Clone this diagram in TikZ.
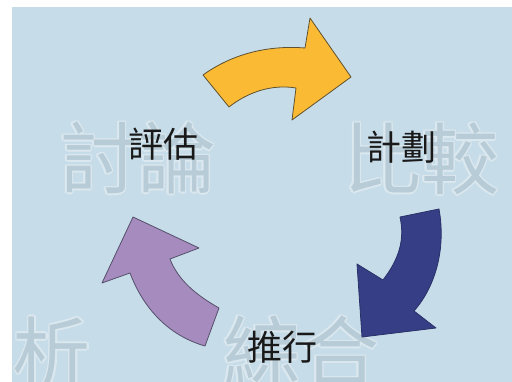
\documentclass[tikz,border=0pt]{standalone}
\usepackage{fontspec}
\newfontfamily\cjk{Noto Sans CJK TC}
\definecolor{bgblue}{HTML}{C6DDE9}
\definecolor{wmfill}{HTML}{B7CCD7}
\definecolor{wmline}{HTML}{DCE8EF}
\definecolor{ayellow}{HTML}{FBBA33}
\definecolor{ayline}{HTML}{5E5030}
\definecolor{ablue}{HTML}{363F85}
\definecolor{abline}{HTML}{2A3068}
\definecolor{apurple}{HTML}{A68BBE}
\definecolor{apline}{HTML}{55506A}
\tikzset{
  wmark/.style={font=\cjk\fontsize{78}{80}\selectfont, text=wmfill, inner sep=0pt},
  wmhalo/.style={font=\cjk\fontsize{78}{80}\selectfont, text=wmline, inner sep=0pt},
  lbl/.style={font=\cjk\fontsize{35}{37}\selectfont, text=black!90, inner sep=0pt},
  arrowshape/.style={line width=0.8pt, line join=round}
}
\newcommand{\wmtext}[3]{%
  \foreach \dx/\dy in {-1.6/0,1.6/0,0/-1.6,0/1.6,-1.1/-1.1,1.1/-1.1,-1.1/1.1,1.1/1.1}{
    \node[wmhalo] at ([shift={(\dx,\dy)}]#1) {#3};
  }
  \node[wmark] (#2) at (#1) {#3};
}
\begin{document}
\begin{tikzpicture}[x=1pt,y=-1pt]
\useasboundingbox (0,0) rectangle (512,382);
\fill[white] (0,0) rectangle (512,382);
\fill[bgblue] (12,7) rectangle (512,382);
\begin{scope}
\clip (12,7) rectangle (512,382);
\coordinate (p1) at (138,158);
\coordinate (p2) at (421,159);
\coordinate (p3) at (301,352);
\coordinate (p4) at (13,353);
\wmtext{p1}{w1}{討論}
\wmtext{p2}{w2}{比較}
\wmtext{p3}{w3}{綜合}
\wmtext{p4}{w4}{分析}
\end{scope}
% yellow arrow
\filldraw[arrowshape, fill=ayellow, draw=ayline]
  (203,75) .. controls (232,54) and (268,45) .. (305,48)
  -- (310,18) -- (351,77) -- (292,120) -- (296,88)
  .. controls (272,84) and (248,92) .. (229,107) -- cycle;
% blue arrow
\filldraw[arrowshape, fill=ablue, draw=abline]
  (400,217) -- (439,209)
  .. controls (446,248) and (436,286) .. (414,311)
  -- (436,328) -- (362,337) -- (357,264) -- (383,280)
  .. controls (399,259) and (405,240) .. (400,217) -- cycle;
% purple arrow
\filldraw[arrowshape, fill=apurple, draw=apline]
  (205,346) -- (219,308)
  .. controls (196,295) and (178,280) .. (170,259)
  -- (199,248) -- (133,217) -- (102,283) -- (130,273)
  .. controls (144,310) and (170,336) .. (205,346) -- cycle;
% labels
\node[lbl] (eval) at (163,144) {評估};
\node[lbl] (plan) at (401,147) {計劃};
\node[lbl] (impl) at (282,347) {推行};
\end{tikzpicture}
\end{document}
